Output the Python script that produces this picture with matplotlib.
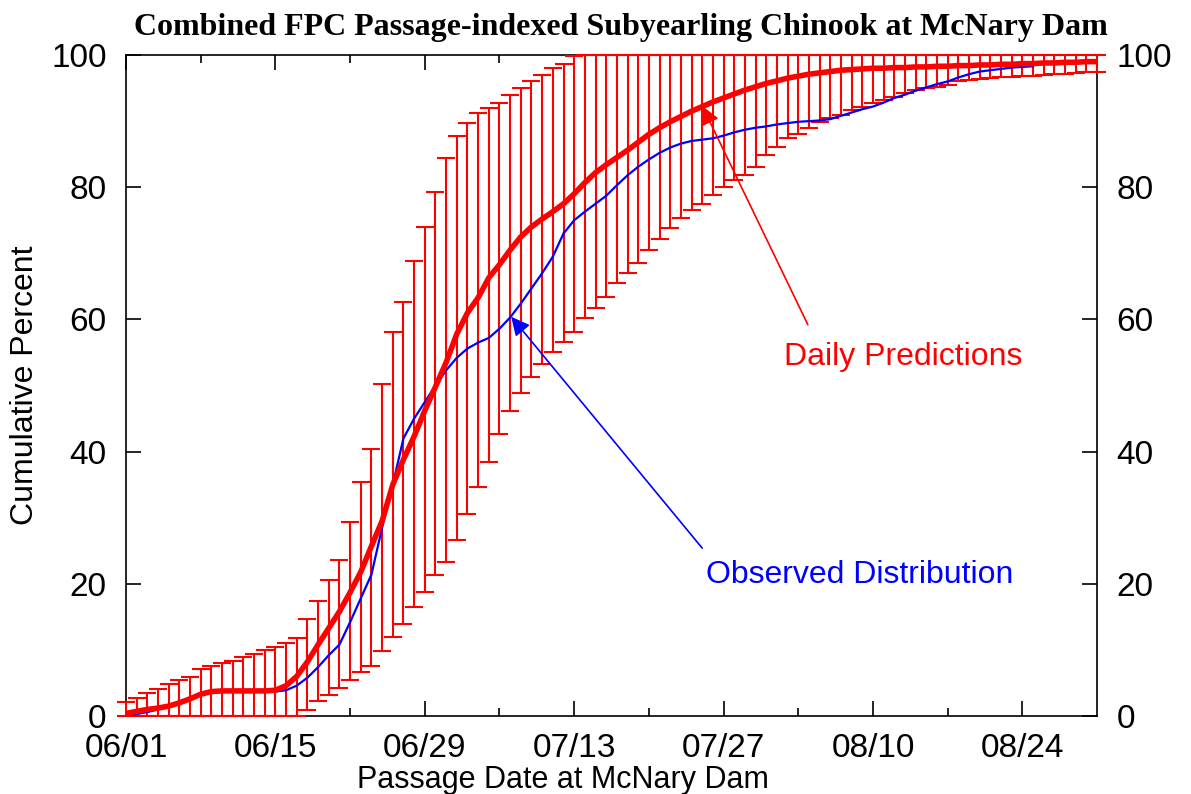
import numpy as np
import matplotlib
matplotlib.use("Agg")
import matplotlib.pyplot as plt
from matplotlib.patches import FancyArrowPatch

plt.rcParams['font.family'] = ['Liberation Sans', 'DejaVu Sans']

# days since 06/01
days = np.arange(92)
tick_days = [0, 14, 28, 42, 56, 70, 84]
tick_labels = ['06/01', '06/15', '06/29', '07/13', '07/27', '08/10', '08/24']

# daily predicted cumulative percent (mean)
pred = [0.4, 0.7, 1.0, 1.2, 1.5, 2.0, 2.6, 3.3, 3.7, 3.8,
        3.8, 3.8, 3.8, 3.8, 3.9, 4.6, 6.0, 8.2, 10.8, 13.3,
        15.8, 18.7, 21.8, 25.7, 29.5, 35.0, 38.8, 42.3, 46.2, 49.8,
        53.5, 57.8, 61.0, 63.3, 66.3, 68.3, 70.5, 72.5, 74.0, 75.2,
        76.3, 77.5, 79.0, 80.7, 82.2, 83.4, 84.5, 85.6, 86.8, 88.0,
        89.0, 89.9, 90.7, 91.5, 92.2, 92.9, 93.5, 94.1, 94.7, 95.2,
        95.7, 96.1, 96.5, 96.8, 97.1, 97.3, 97.5, 97.7, 97.8, 97.9,
        98.0, 98.0, 98.1, 98.1, 98.2, 98.2, 98.3, 98.3, 98.4, 98.4,
        98.5, 98.5, 98.6, 98.6, 98.7, 98.7, 98.8, 98.8, 98.9, 98.9,
        99.0, 99.0]

# upper bound of prediction interval (capped at 100)
upper = [2.1, 2.8, 3.5, 4.1, 4.8, 5.4, 5.9, 7.1, 7.6, 8.0,
         8.4, 9.0, 9.4, 10.0, 10.5, 11.0, 11.8, 14.7, 17.4, 20.6,
         23.6, 29.4, 35.4, 40.4, 50.2, 58.1, 62.7, 68.8, 74.0, 79.3,
         84.4, 87.7, 89.7, 91.2, 92.0, 92.8, 94.0, 95.0, 96.0, 97.0,
         98.0, 98.7, 99.8] + [100.0] * 49

# lower bound of prediction interval
lower = [0.0] * 17 + [
    0.9, 2.2, 3.2, 4.2, 5.5, 6.7, 7.5, 9.8, 12.0, 13.9,
    16.5, 18.8, 21.3, 23.3, 26.7, 30.6, 34.7, 38.5, 42.6, 46.1,
    48.8, 51.3, 53.3, 55.1, 56.6, 58.1, 60.2, 61.7, 63.4, 65.5,
    67.0, 68.5, 70.5, 72.2, 73.8, 75.3, 76.5, 77.5, 78.8, 80.0,
    81.1, 81.8, 83.1, 84.8, 86.1, 87.4, 88.1, 89.0, 89.9, 90.4,
    90.9, 91.7, 92.2, 92.7, 93.2, 93.7, 94.2, 94.7, 95.0, 95.2,
    95.5, 96.0, 96.2, 96.4, 96.5, 96.6, 96.7, 96.8, 96.9, 97.0,
    97.1, 97.2, 97.3, 97.4, 97.5]

# observed cumulative passage
obs_days = np.arange(86)
observed = [0.0, 0.3, 0.6, 1.0, 1.5, 2.1, 2.8, 3.4, 3.6, 3.7,
            3.7, 3.7, 3.7, 3.7, 3.7, 3.9, 4.6, 5.8, 7.4, 9.2,
            10.8, 14.2, 17.8, 21.4, 28.5, 35.0, 42.0, 45.0, 47.5, 50.0,
            52.3, 54.2, 55.6, 56.5, 57.2, 58.6, 60.3, 62.4, 64.7, 67.0,
            69.5, 73.0, 75.0, 76.3, 77.5, 78.7, 80.3, 81.8, 83.1, 84.2,
            85.2, 86.0, 86.6, 87.0, 87.2, 87.4, 87.8, 88.3, 88.7, 89.0,
            89.2, 89.5, 89.7, 89.9, 90.0, 90.1, 90.3, 90.8, 91.3, 91.8,
            92.2, 92.8, 93.5, 94.0, 94.6, 95.1, 95.6, 96.0, 96.6, 97.1,
            97.5, 97.7, 97.9, 98.1, 98.2, 98.3]

pred = np.array(pred)
upper = np.array(upper)
lower = np.array(lower)

fig = plt.figure(figsize=(11.91, 7.94), dpi=100)
ax = fig.add_axes([0.1058, 0.0982, 0.8153, 0.8325])

eb = ax.errorbar(days, pred, yerr=[pred - lower, upper - pred], fmt='none',
                 ecolor='#ff0000', elinewidth=1.5, capsize=6.5, capthick=1.5,
                 zorder=3)
for art in list(eb.lines[1]) + list(eb.lines[2]):
    art.set_clip_on(False)

ax.plot(obs_days, observed, color='#0000ff', lw=1.6, zorder=4)
ax.plot(days, pred, color='#ff0000', lw=4, zorder=5)

ax.set_xlim(0, 91)
ax.set_ylim(0, 100)
ax.set_xticks(tick_days)
ax.set_xticklabels(tick_labels)
ax.set_xticks([7, 21, 35, 49, 63, 77], minor=True)
ax.set_yticks([0, 20, 40, 60, 80, 100])
ax.tick_params(which='both', direction='in', top=True, right=True,
               labelright=True, labelsize=24, width=1.2)
ax.tick_params(which='major', length=11)
ax.tick_params(which='minor', length=6)
ax.tick_params(axis='y', pad=14)
ax.tick_params(axis='x', pad=12)
for sp in ax.spines.values():
    sp.set_linewidth(1.2)

ax.set_ylabel('Cumulative Percent', fontsize=23, labelpad=8)
fig.text(563 / 1191, 1 - 788 / 794, 'Passage Date at McNary Dam',
         fontsize=22, ha='center', va='baseline')
fig.text(621 / 1191, 1 - 27 / 794,
         'Combined FPC Passage-indexed Subyearling Chinook at McNary Dam',
         fontsize=23, fontweight='bold', ha='center', va='center',
         family=['Liberation Serif', 'DejaVu Serif'])

# annotation arrows
ax.add_patch(FancyArrowPatch((63.9, 59.2), (54.0, 92.3), arrowstyle='-|>',
                             mutation_scale=28, color='#ff0000', lw=1.2,
                             shrinkA=0, shrinkB=0, zorder=6))
ax.add_patch(FancyArrowPatch((54.0, 25.4), (36.1, 60.4), arrowstyle='-|>',
                             mutation_scale=28, color='#0000ff', lw=1.2,
                             shrinkA=0, shrinkB=0, zorder=6))
ax.text(61.7, 54.3, 'Daily Predictions', color='#ff0000', fontsize=23,
        ha='left', va='center')
ax.text(54.4, 21.3, 'Observed Distribution', color='#0000ff', fontsize=23,
        ha='left', va='center')

fig.savefig('out.png', dpi=100)
